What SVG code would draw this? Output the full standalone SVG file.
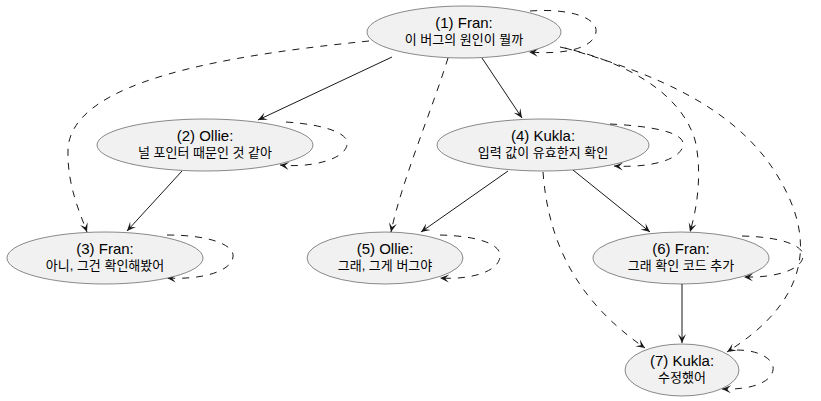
<svg xmlns="http://www.w3.org/2000/svg" width="821" height="401" viewBox="0 0 821 401">
<defs>
<marker id="ah" viewBox="-10 -5 11 10" refX="0" refY="0" markerWidth="11" markerHeight="10" markerUnits="userSpaceOnUse" orient="auto">
<path d="M0,0 L-9,-4 L-5,0 L-9,4 Z" fill="#181818"/>
</marker>
<style>
.node ellipse{fill:#F1F1F1;stroke:#181818;stroke-width:0.5}
.t1{font-family:"Liberation Sans","Noto Sans CJK KR",sans-serif;font-size:15px;fill:#000;text-anchor:middle}
.t2{font-family:"Liberation Sans","Noto Sans CJK KR",sans-serif;font-size:13px;fill:#000;text-anchor:middle}
.e{fill:none;stroke:#181818;stroke-width:1;marker-end:url(#ah)}
.d{stroke-dasharray:7,7}
</style>
</defs>
<rect width="821" height="401" fill="#fff"/>
<g id="connectors">
<path class="e" d="M392,57 L258,120"/>
<path class="e" d="M182,171 L127,231"/>
<path class="e" d="M482,58 L522,118"/>
<path class="e" d="M508,171 L421,232"/>
<path class="e" d="M573,170 L650,232"/>
<path class="e" d="M682,284 L682,343"/>
<path class="e d" d="M530,11 C570,8 598,18 596,32 C594,48 565,55 529,52"/>
<path class="e d" d="M286,122 C330,125 350,135 347,145 C344,160 310,168 280,165"/>
<path class="e d" d="M167,235 C210,235 235,245 233,257 C231,272 200,280 167,278"/>
<path class="e d" d="M610,124 C650,126 685,132 683,145 C681,160 650,168 614,166"/>
<path class="e d" d="M440,235 C480,236 502,245 500,257 C498,272 470,280 440,278"/>
<path class="e d" d="M742,236 C785,237 805,247 803,257 C801,270 775,278 744,277"/>
<path class="e d" d="M737,350 C760,350 775,360 773,370 C771,383 750,390 722,389"/>
<path class="e d" d="M369,41 C230,55 70,80 68,150 C67,185 80,213 87,232"/>
<path class="e d" d="M448,58 C432,110 402,180 391,232"/>
<path class="e d" d="M560,47 C620,60 680,90 695,140 C702,170 698,205 690,232"/>
<path class="e d" d="M565,48 C660,75 740,110 780,180 C815,240 810,300 727,352"/>
<path class="e d" d="M543,172 C548,240 575,300 645,348"/>
</g>
<g id="n1" class="node"><ellipse cx="464" cy="32" rx="97" ry="26"/><text class="t1" x="464" y="28">(1) Fran:</text><text class="t2" x="464" y="44">이 버그의 원인이 뭘까</text></g>
<g id="n2" class="node"><ellipse cx="205" cy="145" rx="108" ry="26"/><text class="t1" x="205" y="141">(2) Ollie:</text><text class="t2" x="205" y="157">널 포인터 때문인 것 같아</text></g>
<g id="n3" class="node"><ellipse cx="105" cy="258" rx="98" ry="26"/><text class="t1" x="105" y="254">(3) Fran:</text><text class="t2" x="105" y="270">아니, 그건 확인해봤어</text></g>
<g id="n4" class="node"><ellipse cx="543" cy="145" rx="106" ry="26"/><text class="t1" x="543" y="141">(4) Kukla:</text><text class="t2" x="543" y="157">입력 값이 유효한지 확인</text></g>
<g id="n5" class="node"><ellipse cx="385" cy="258" rx="78" ry="26"/><text class="t1" x="385" y="254">(5) Ollie:</text><text class="t2" x="385" y="270">그래, 그게 버그야</text></g>
<g id="n6" class="node"><ellipse cx="681" cy="258" rx="88" ry="26"/><text class="t1" x="681" y="254">(6) Fran:</text><text class="t2" x="681" y="270">그래 확인 코드 추가</text></g>
<g id="n7" class="node"><ellipse cx="682" cy="370" rx="57" ry="26"/><text class="t1" x="682" y="366">(7) Kukla:</text><text class="t2" x="682" y="382">수정했어</text></g>
</svg>
